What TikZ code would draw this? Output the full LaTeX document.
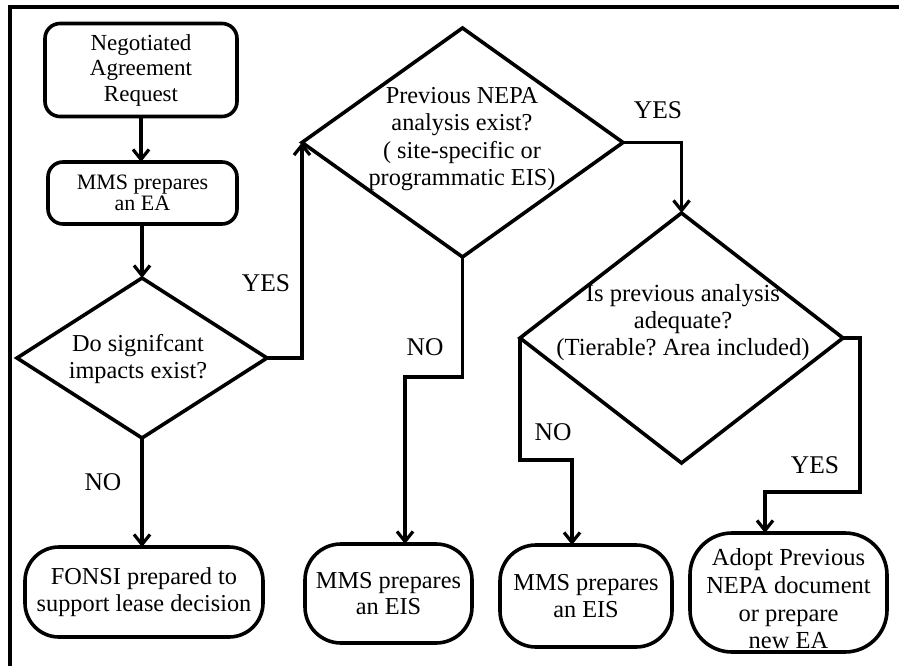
\documentclass[tikz,border=0pt]{standalone}
\usepackage{fontspec}
\setmainfont{Liberation Serif}
\usetikzlibrary{shapes.geometric,arrows.meta}
\frenchspacing
\begin{document}
\begin{tikzpicture}[x=1pt,y=-1pt,
  line width=3.6pt,
  every node/.style={inner sep=0pt, outer sep=0pt},
  arr/.style={draw, -{Straight Barb[length=10pt,width=16pt,line width=3.2pt]}},
  box/.style={draw, rectangle, rounded corners=15pt, align=center, font=\fontsize{23}{25.5}\selectfont},
  endbox/.style={draw, rectangle, rounded corners=36pt, align=center, font=\fontsize{24.3}{26.5}\selectfont},
  dia/.style={draw, diamond},
  dtext/.style={align=center, font=\fontsize{24.3}{27.3}\selectfont},
  lbl/.style={font=\fontsize{25.5}{27}\selectfont}]
\useasboundingbox (0,0) rectangle (899,666);
% frame
\draw[line width=4.2pt] (10,666) -- (10,7) -- (899,7);
% boxes
\node[box, minimum width=192pt, minimum height=93pt] (n1) at (141,70) {Negotiated\\Agreement\\Request};
\node[box, minimum width=189pt, minimum height=62pt, font=\fontsize{22}{20.5}\selectfont] (n2) at (142.5,193) {MMS prepares\\an EA};
% diamonds
\node[dia, minimum width=250pt, minimum height=160pt] (d1) at (142,358) {};
\node[dtext] (t1) at (138,359) {Do signifcant\\impacts exist?};
\node[dia, minimum width=321pt, minimum height=229pt] (d2) at (462.5,142.5) {};
\node[dtext] (t2) at (462,139) {Previous NEPA\\analysis exist?\\( site-specific or\\programmatic EIS)};
\node[dia, minimum width=323pt, minimum height=250pt] (d3) at (681.5,338) {};
\node[dtext, font=\fontsize{24.6}{27}\selectfont] (t3) at (683,323) {Is previous analysis\\adequate?\\(Tierable? Area included)};
% end boxes
\node[endbox, minimum width=238pt, minimum height=90pt, rounded corners=34pt] (fonsi) at (144,592) {FONSI prepared to\\support lease decision};
\node[endbox, minimum width=167pt, minimum height=99pt] (eis1) at (388.5,593.5) {MMS prepares\\an EIS};
\node[endbox, minimum width=172pt, minimum height=102pt] (eis2) at (586,596) {MMS prepares\\an EIS};
\node[endbox, minimum width=197pt, minimum height=119pt, rounded corners=42pt] (adopt) at (788.5,592.5) {};
\node[dtext, font=\fontsize{24.5}{27.7}\selectfont] (t4) at (788.5,599) {Adopt Previous\\NEPA document\\or prepare\\new EA};
% connectors
\draw[arr] (n1.south) -- (n2.north -| n1.south);
\draw[arr] (n2.south -| d1.north) -- (d1.north);
\draw[arr] (d1.east) -| (d2.west);
\draw[arr] (d2.east) -| (d3.north);
\draw[arr] (d1.south) -- (fonsi.north -| d1.south);
\coordinate (c1) at ([xshift=16.5pt]eis1.north);
\draw[arr] (d2.south) -- ++(0,120) -| (c1);
\coordinate (c2) at ([xshift=-14pt]eis2.north);
\draw[arr] (d3.west) -- ++(0,122) -| (c2);
\coordinate (c3) at ([xshift=-23.5pt]adopt.north);
\draw[arr] (d3.east) -- ++(17,0) -- ++(0,154) -| (c3);
% labels
\node[lbl] (y1) at (266,283) {YES};
\node[lbl] (y2) at (658,110) {YES};
\node[lbl] (no1) at (103,482) {NO};
\node[lbl] (no2) at (425,347) {NO};
\node[lbl] (no3) at (553,432) {NO};
\node[lbl] (y3) at (815,465) {YES};
\end{tikzpicture}
\end{document}
